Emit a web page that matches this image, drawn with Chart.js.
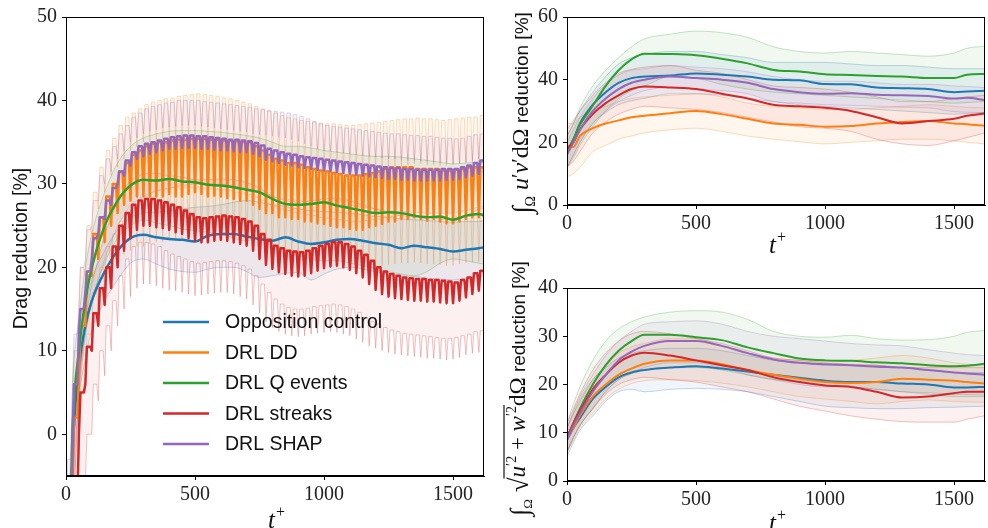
<!doctype html>
<html>
<head>
<meta charset="utf-8">
<title>Drag reduction and flow statistics</title>
<script src="https://cdn.jsdelivr.net/npm/chart.js@4.4.1/dist/chart.umd.min.js"></script>
<style>
html, body { margin: 0; padding: 0; background: #fff; }
#wrap { position: relative; width: 988px; height: 528px; overflow: hidden; }
canvas { position: absolute; }
#cDrag { left: 0; top: 0; }
#cUV { left: 490px; top: 0; }
#cUW { left: 490px; top: 255px; }
</style>
</head>
<body>
<div id="wrap">
  <canvas id="cDrag" width="500" height="528"></canvas>
  <canvas id="cUV" width="498" height="255"></canvas>
  <canvas id="cUW" width="498" height="273"></canvas>
</div>
<script>
const names = ['Opposition control', 'DRL DD', 'DRL Q events', 'DRL streaks', 'DRL SHAP'];
const colors = ['#1f77b4', '#ff7f0e', '#2ca02c', '#d62728', '#9467bd'];

// ---- left panel: drag reduction ----
// smooth series, t+ = 0,25,50,75,100,150,...,1600,1620
const tL = [0, 25, 50, 75, 100, 150, 200, 250, 300, 350, 400, 450, 500, 550, 600, 650, 700, 750,
  800, 850, 900, 950, 1000, 1050, 1100, 1150, 1200, 1250, 1300, 1350, 1400, 1450, 1500, 1550, 1600, 1620];
const ocMean = [-35, -3, 8, 13, 16, 19.5, 22, 23.5, 23.9, 23.6, 23.4, 23.3, 23.1, 23.8, 24, 24, 23.7, 23.4,
  23.2, 23.6, 23.1, 22.8, 23, 23.3, 23.4, 23.2, 22.9, 22.7, 22.3, 22.6, 22.4, 22.2, 21.9, 22.1, 22.3, 22.4];
const ocHi = [-30, 0, 10, 15, 18.5, 22, 24.5, 26, 26.5, 26.6, 26.8, 27, 27.2, 27.3, 27.5, 27.8, 28, 27.8,
  27.5, 27.3, 27, 26.8, 26.7, 26.6, 26.5, 26.3, 26.1, 26, 25.8, 25.7, 25.6, 25.5, 25.4, 25.5, 25.5, 25.6];
const ocLo = [-40, -8, 4, 9, 12.5, 16, 18.5, 20.5, 21, 20.4, 19.8, 19.5, 19.4, 19.8, 20, 20, 19.5, 18.8,
  19, 19.3, 19.4, 18.5, 19.2, 19.8, 20, 19.8, 19.5, 19.2, 19, 18.9, 18.7, 18.6, 18.5, 18.7, 18.9, 19];
const qeMean = [-32, 0, 10, 16, 20, 25, 28, 29.8, 30.5, 30.4, 30.6, 30.3, 30.2, 29.9, 29.8, 29.6, 29.3, 29,
  28.2, 27.6, 27.5, 27.6, 27.8, 27.4, 27.1, 26.8, 26.5, 26.6, 26.5, 26.2, 26, 26.1, 25.7, 26.2, 26.4, 26.2];
const qeHi = [-25, 5, 14, 20, 24, 29, 32.5, 34.5, 35.5, 36, 36.3, 36.4, 36.4, 36.3, 36.2, 36, 35.8, 35.5,
  35, 34.5, 34.5, 34.3, 34, 33.8, 33.6, 33.4, 33.3, 33.3, 33.2, 33, 32.8, 32.6, 32.4, 32.5, 32.6, 32.6];
const qeLo = [-38, -6, 6, 12, 16, 20.5, 23.5, 25, 25.7, 25.3, 25, 24.6, 24.4, 24.2, 24, 23.5, 23.2, 23.5,
  22.8, 22, 21.5, 21, 20.8, 20.8, 20.5, 20.2, 19.8, 19.5, 19.2, 19, 19.5, 20.5, 21, 20.8, 20.5, 20.4];
const stHi = [-40, -12, 6, 14, 18, 24, 28, 30.5, 31.2, 31.3, 31, 30.8, 30.5, 30.5, 30.6, 30.5, 30.2, 29.5,
  28.5, 28, 27.8, 28, 28.2, 28.3, 28, 27.5, 27, 26.5, 26.2, 26, 26, 25.8, 25.8, 26.2, 27, 27.2];
const shLo = [-35, -10, 5, 12, 16, 21, 25, 27.5, 28.5, 29.2, 29.5, 29.8, 30, 30, 30, 29.8, 29.5, 29,
  28.5, 28.2, 28, 27.8, 27.6, 27.5, 27.4, 27.2, 27, 26.8, 26.7, 26.6, 26.5, 26.5, 26.5, 26.8, 27.2, 27.4];

// oscillating series: per actuation period (25 t+) a dip value then the arch top value,
// one row per 100 t+
const ddMean = [
  -30, -18, -8, 2, 6, 13, 13, 19,
  19, 24, 21, 26, 23, 28.5, 25, 30,
  26.5, 31.5, 27.5, 32.5, 28, 33.5, 28.5, 34,
  28.5, 34.5, 28.5, 34.8, 28.5, 35, 28.5, 35,
  28.8, 35.2, 28.5, 35.3, 28.5, 35.3, 28.8, 35.4,
  29, 35.4, 28.8, 35.4, 28.5, 35.3, 28.6, 35.3,
  28.5, 35.2, 28.3, 35.2, 28.2, 35.1, 28, 35,
  28, 35, 27.5, 34.5, 27, 34, 26.5, 33.5,
  26.5, 33, 26, 32.8, 26, 32.5, 25.8, 32.5,
  25.8, 32.3, 25.5, 32, 25.5, 31.8, 25.3, 31.6,
  25.2, 31.5, 25, 31.3, 24.8, 31.2, 24.8, 31,
  24.6, 31, 24.5, 31, 24.5, 31.2, 24.8, 31.3,
  25, 31.5, 25.2, 31.8, 25.5, 32, 25.5, 32,
  25.8, 32, 25.8, 32, 26, 31.8, 25.8, 31.8,
  25.6, 31.8, 25.8, 31.8, 25.5, 31.6, 25.3, 31.6,
  25.3, 31.7, 25.5, 31.8, 25.8, 32, 26, 32,
  26, 32, 26.5];
const ddHi = [
  -20, -8, 2, 10, 14, 20, 19, 25,
  24, 29, 27, 32, 29, 34, 31, 35.5,
  32, 37, 33, 38, 34, 38.5, 34.5, 39,
  35, 39.5, 35, 39.8, 35.2, 40, 35.2, 40.2,
  35.3, 40.3, 35.5, 40.5, 35.5, 40.6, 35.6, 40.7,
  35.6, 40.8, 35.5, 40.7, 35.5, 40.6, 35.3, 40.5,
  35.2, 40.3, 35, 40.2, 34.8, 40, 34.6, 39.8,
  34.4, 39.6, 34, 39.3, 33.6, 39, 33.3, 38.7,
  33, 38.5, 32.8, 38.2, 32.6, 38, 32.4, 37.8,
  32.2, 37.6, 32, 37.5, 32, 37.4, 31.8, 37.3,
  31.8, 37.2, 31.7, 37.2, 31.6, 37.1, 31.5, 37,
  31.5, 37, 31.5, 37.1, 31.6, 37.2, 31.7, 37.3,
  31.8, 37.4, 32, 37.5, 32, 37.6, 32.2, 37.7,
  32.2, 37.8, 32.3, 37.8, 32.4, 37.9, 32.4, 37.8,
  32.3, 37.8, 32.3, 37.7, 32.2, 37.6, 32.2, 37.7,
  32.3, 37.8, 32.4, 37.9, 32.5, 38, 32.6, 38,
  32.6, 38.2, 33];
const ddLo = [
  -40, -28, -16, -6, -2, 5, 5, 12,
  12, 17, 15, 20, 17, 22.5, 19, 24,
  20.5, 25.5, 21.5, 26.5, 22, 27.5, 22.5, 28,
  22.5, 28.5, 22.8, 29, 23, 29.2, 23, 29.3,
  23.2, 29.5, 23.3, 29.5, 23.3, 29.6, 23.4, 29.6,
  23.4, 29.6, 23.3, 29.5, 23.3, 29.5, 23.2, 29.4,
  23.1, 29.3, 23, 29.2, 22.8, 29, 22.7, 28.9,
  22.5, 28.7, 22.2, 28.4, 22, 28, 21.7, 27.6,
  21.5, 27.3, 21.3, 27, 21.2, 26.8, 21, 26.6,
  20.8, 26.5, 20.6, 26.3, 20.5, 26.2, 20.4, 26,
  20.3, 25.9, 20.2, 25.8, 20, 25.7, 20, 25.6,
  19.8, 25.5, 19.8, 25.5, 19.8, 25.6, 19.9, 25.7,
  20, 25.8, 20.2, 26, 20.3, 26.1, 20.4, 26.2,
  20.5, 26.3, 20.5, 26.3, 20.6, 26.2, 20.5, 26.2,
  20.4, 26.1, 20.4, 26, 20.3, 26, 20.2, 25.9,
  20.2, 26, 20.4, 26.1, 20.5, 26.2, 20.6, 26.3,
  20.7, 26.4, 21];
const stMean = [
  -60, -40, -22, -8, 0, 5, 6, 10.5,
  10, 14.5, 13, 17.5, 15.5, 20, 17.5, 22.5,
  20, 25, 22, 26.5, 23.5, 27.5, 24.5, 28,
  25, 28.2, 25, 28.2, 24.8, 28, 24.7, 27.8,
  24.5, 27.5, 24.2, 27.2, 24, 26.8, 23.5, 26.4,
  23.2, 26, 23, 25.9, 23, 26, 23.2, 26.1,
  23.3, 26.2, 23.2, 26.1, 23, 26, 22.8, 25.8,
  22.6, 25.5, 22, 25, 21, 24, 20.3, 23.3,
  19.8, 22.6, 19.4, 22.3, 19.2, 22, 19, 21.9,
  18.9, 21.8, 19, 22, 19.3, 22.3, 19.6, 22.6,
  19.9, 22.8, 20.1, 23, 20.2, 23, 20, 22.8,
  19.7, 22.5, 19.3, 22, 18.8, 21.5, 18, 20.8,
  17.3, 20, 16.8, 19.5, 16.5, 19.2, 16.3, 19,
  16.2, 18.8, 16.1, 18.7, 16, 18.6, 16, 18.6,
  15.9, 18.5, 15.9, 18.5, 15.8, 18.4, 15.7, 18.3,
  15.7, 18.2, 16, 18.5, 16.4, 18.8, 16.8, 19.3,
  17.2, 19.6, 17.5];
const stLo = [
  -70, -55, -40, -28, -18, -10, -6, 0,
  0, 6, 4, 10, 7, 13, 10, 16,
  13, 19, 15, 21, 16.5, 22.5, 17.5, 23,
  18, 23, 18, 22.8, 17.8, 22.5, 17.5, 22,
  17.3, 21.6, 17.2, 21.3, 17, 21, 16.8, 20.7,
  16.6, 20.5, 16.7, 20.6, 16.8, 20.7, 16.9, 20.8,
  17, 20.8, 17, 20.7, 16.8, 20.5, 16.5, 20.2,
  16.2, 19.8, 15.5, 19, 14.5, 18, 13.5, 17,
  12.8, 16.2, 12.3, 15.6, 12, 15.2, 11.8, 15,
  11.7, 15, 11.8, 15.1, 12, 15.3, 12.1, 15.4,
  12.2, 15.5, 12.3, 15.6, 12.2, 15.5, 12, 15.3,
  11.8, 15, 11.4, 14.6, 11, 14, 10.6, 13.5,
  10.3, 13.2, 10, 12.8, 9.8, 12.5, 9.6, 12.3,
  9.5, 12.1, 9.4, 12, 9.3, 11.9, 9.2, 11.8,
  9.1, 11.7, 9.1, 11.6, 9, 11.5, 8.9, 11.5,
  9, 11.6, 9.2, 11.8, 9.5, 12, 9.7, 12.3,
  9.8, 12.4, 10];
const shMean = [
  -25, -12, -2, 6, 12, 15, 17, 19.5,
  21, 23.5, 24, 26, 25.8, 28, 27.5, 29.5,
  30, 31.5, 31, 32.8, 32.2, 33.8, 33, 34.5,
  33.3, 34.8, 33.6, 35, 33.8, 35.2, 34, 35.4,
  34.2, 35.6, 34.2, 35.7, 34.3, 35.8, 34.3, 35.8,
  34.3, 35.7, 34.2, 35.7, 34.2, 35.6, 34.1, 35.5,
  34, 35.4, 34, 35.3, 33.9, 35.3, 33.8, 35.2,
  33.8, 35.1, 33.6, 34.9, 33.3, 34.6, 32.9, 34.2,
  32.7, 34, 32.5, 33.8, 32.3, 33.6, 32.2, 33.5,
  32, 33.3, 31.9, 33.2, 31.8, 33.1, 31.7, 33,
  31.6, 32.9, 31.5, 32.8, 31.4, 32.7, 31.3, 32.6,
  31.2, 32.5, 31.1, 32.4, 31, 32.3, 30.9, 32.2,
  30.8, 32.1, 30.7, 32, 30.6, 31.9, 30.6, 31.9,
  30.5, 31.8, 30.5, 31.8, 30.4, 31.7, 30.4, 31.7,
  30.4, 31.7, 30.4, 31.7, 30.4, 31.8, 30.5, 31.8,
  30.5, 31.8, 30.6, 32, 30.8, 32.2, 31, 32.5,
  31.2, 32.8, 31.5];
const shHi = [
  -15, -3, 6, 12, 16, 20, 21, 24.5,
  25, 28, 28, 31, 30, 33, 31.5, 34.5,
  33, 36, 34, 37, 35, 38, 35.5, 38.5,
  36, 39, 36.3, 39.3, 36.5, 39.5, 36.7, 39.7,
  36.8, 39.8, 36.9, 40, 37, 40, 37, 40,
  37, 40, 36.9, 39.9, 36.8, 39.8, 36.7, 39.7,
  36.6, 39.6, 36.5, 39.5, 36.4, 39.4, 36.3, 39.3,
  36.2, 39.2, 36, 39, 35.9, 38.9, 35.8, 38.8,
  35.7, 38.7, 35.6, 38.6, 35.5, 38.5, 35.3, 38.3,
  35.1, 38.1, 34.8, 37.8, 34.5, 37.5, 34.2, 37.2,
  34, 37, 33.9, 36.9, 33.8, 36.8, 33.7, 36.7,
  33.6, 36.6, 33.5, 36.5, 33.4, 36.4, 33.3, 36.3,
  33.2, 36.2, 33.1, 36.1, 33, 36, 33, 36,
  32.9, 35.9, 32.8, 35.8, 32.8, 35.8, 32.7, 35.7,
  32.7, 35.7, 32.6, 35.6, 32.5, 35.5, 32.5, 35.5,
  32.4, 35.4, 32.5, 35.5, 32.6, 35.7, 32.8, 35.9,
  33, 36, 33.2];
const period = 25;

// ---- right panels, t+ grid ----
const tR = [0, 25, 50, 100, 150, 200, 250, 300, 400, 500, 600, 700, 800, 900, 1000, 1100, 1200, 1300, 1400, 1500, 1550, 1620];

// integral of u'v'
const uvOc = [17, 21, 26, 32, 36, 39, 40.5, 41, 41.3, 42, 41.6, 41, 40, 39.8, 38.6, 38.5, 37.5, 37.3, 37, 36, 36.2, 36.5];
const uvOcHi = [22, 26, 30, 36, 41, 45, 47, 48, 49, 49, 48, 47, 45.5, 45.5, 45.5, 45, 44.5, 44.5, 44, 43.5, 43.5, 43.5];
const uvOcLo = [12, 16, 20, 26, 29.5, 32, 33.3, 34, 35.5, 35.5, 35, 34, 33, 32, 31.5, 31, 30.5, 30, 29.5, 29, 29.2, 29.5];
const uvDd = [19, 18.5, 22, 24.5, 26, 27, 28, 28.5, 29.3, 30, 29, 27.5, 26, 25.6, 25, 25.2, 26, 26.5, 26.8, 26, 25.8, 25.3];
const uvDdHi = [26, 26, 28, 30, 31.5, 33, 34, 34.5, 35, 35.5, 34.5, 32.5, 31.5, 31, 30.5, 30.5, 31, 31.5, 32, 31.5, 31.2, 31];
const uvDdLo = [9, 10, 12, 17, 19, 21, 22, 23, 24, 24.5, 23.5, 22, 21, 20.2, 19.5, 20, 20.5, 21, 21, 20.5, 20, 19.5];
const uvQe = [17, 21, 25.5, 31.7, 38, 43, 46.5, 48.3, 48.2, 47.8, 46.7, 45.2, 43.1, 42.6, 41.7, 41.5, 41.2, 41, 40.5, 40.5, 41.6, 41.8];
const uvQeHi = [22, 26, 31, 38, 43, 47, 50.5, 53, 54.5, 55.5, 55, 53.5, 50.5, 49, 48.5, 49, 48.5, 48, 47.5, 48.5, 50, 50.7];
const uvQeLo = [12, 15, 19, 25, 30, 34, 36.5, 38, 41, 40.5, 38.5, 37, 36, 35.5, 35, 34.5, 34, 33.5, 33, 32.5, 32.7, 33];
const uvSt = [18, 20, 24, 29, 32.5, 35, 37, 37.8, 37.5, 37, 35.5, 34, 32, 31.5, 31, 30, 28, 26, 26.8, 27.5, 28.5, 29.2];
const uvStHi = [24, 27, 30, 35, 39, 42, 43.3, 44, 44.5, 43, 42, 40, 38, 37.5, 37, 36, 34.5, 33, 33, 34, 34.5, 35];
const uvStLo = [12, 14, 17, 23, 26.5, 29, 30.5, 31.5, 31, 30.5, 29.5, 28, 26.5, 25, 24.5, 23.5, 21, 19.5, 19, 20.5, 21.5, 23];
const uvSh = [16, 20, 24, 30, 34, 37, 39, 40, 41, 40.5, 40, 39, 37, 36, 35.5, 35.7, 35.2, 35, 34.8, 34, 34.2, 33.5];
const uvShHi = [20, 24, 28, 34, 38.5, 41.5, 43, 43.5, 44.5, 44, 43.5, 42.5, 41, 40, 39.5, 39.5, 39, 38.5, 38.5, 38, 37.8, 37.5];
const uvShLo = [12, 16, 20, 26, 30, 33, 35, 36.5, 37.5, 37, 36.5, 35.5, 33, 32.5, 32, 31.8, 31.5, 31.2, 31, 29.8, 29.6, 29.5];

// integral of sqrt(u'^2 + w'^2)
const uwOc = [8.5, 11, 13, 17, 19.5, 21.5, 22.5, 23, 23.5, 23.8, 23.3, 22.7, 22, 21.4, 20.8, 20.5, 20.5, 20.2, 20, 19.4, 19.4, 19.5];
const uwOcHi = [11, 14, 16.5, 21, 23.5, 25.5, 26.5, 27, 27.5, 27.5, 27, 26, 25, 24.5, 24, 24, 24, 23.5, 23, 22.5, 22.5, 22.5];
const uwOcLo = [5, 8, 10.5, 13.5, 16.5, 18.5, 19, 18.5, 19, 19.2, 19, 18.5, 17.5, 16.5, 15.5, 15.2, 15, 15, 15.2, 15.3, 15.4, 15.5];
const uwDd = [9, 11, 13.5, 17.5, 20, 22, 23.3, 24.3, 25, 25, 24.2, 23, 22, 21.2, 20.5, 20.3, 20.5, 21.2, 21, 20.8, 20.5, 20.2];
const uwDdHi = [11, 14, 17, 21, 24, 26.5, 27.8, 28.5, 29.5, 29.5, 28, 26.5, 25.5, 25, 24.8, 25, 25.5, 26, 25.5, 24.5, 24.2, 24];
const uwDdLo = [6, 8.5, 11, 14, 17, 19, 20.2, 20.8, 21, 20.8, 20.3, 19.5, 18.5, 17.5, 17, 16.5, 16, 16.5, 16.8, 16.5, 16.4, 16.3];
const uwQe = [9, 12, 15, 20, 24, 27, 29, 30.3, 30.3, 29.8, 29.2, 27.7, 26.5, 25.4, 25, 24.9, 24.6, 24.4, 24, 23.8, 23.9, 24.3];
const uwQeHi = [12, 16, 19.5, 25, 29, 31.5, 33, 34, 35, 35.3, 35, 33.5, 31, 30, 29.8, 30.2, 29.5, 29.2, 29.3, 30, 30.8, 31.2];
const uwQeLo = [6, 9, 11.5, 15, 18.5, 21, 22.2, 23, 23.5, 23.5, 23, 22, 21, 20.5, 19.8, 19.5, 19, 18.5, 18, 17.5, 17.5, 17.5];
const uwSt = [9, 12, 14.5, 19, 22, 24.5, 26, 26.6, 26, 25, 24, 23, 21.5, 20.5, 19.8, 19.5, 18.5, 17.3, 17.5, 18.2, 18.5, 18.5];
const uwStHi = [12, 15, 18, 23, 26.5, 29, 30.5, 31, 30.5, 29.5, 28.5, 27, 25.5, 25, 24.5, 24.2, 24, 23.5, 23.5, 23.5, 23.5, 23.5];
const uwStLo = [6, 9, 11.5, 15, 18, 20, 21, 21.5, 21, 20.5, 19.5, 18.5, 17, 15.5, 14.5, 13.5, 12.8, 12.3, 12.2, 12.2, 12.8, 13.5];
const uwSh = [8.5, 11.5, 14, 18.5, 22, 25, 26.8, 28, 29, 29, 28, 26.5, 25.2, 24.5, 24.2, 24, 23.7, 23.5, 23, 22.5, 22.3, 22];
const uwShHi = [11, 14.5, 17.5, 22, 26, 29, 31, 32.5, 33, 33.2, 32.5, 31, 30, 29.5, 29, 28.5, 28.2, 28, 27.2, 26.5, 26.2, 26];
const uwShLo = [6, 9, 11.5, 15, 18.5, 21, 22.5, 23.5, 24.5, 24.5, 23.5, 22, 21, 20, 19.5, 19.5, 19, 18.5, 18.3, 18, 17.9, 17.8];

const SERIF = '"Liberation Serif", "DejaVu Serif", serif';
const SANS = '"Liberation Sans", "DejaVu Sans", sans-serif';

function rgba(hex, a) {
  const n = parseInt(hex.slice(1), 16);
  return 'rgba(' + (n >> 16) + ',' + ((n >> 8) & 255) + ',' + (n & 255) + ',' + a + ')';
}
function pts(ts, vs) {
  return ts.map((t, i) => ({ x: t, y: vs[i] }));
}
// dip at the start of each period, arch top held over the rest of it
function oscPts(vs) {
  const out = [];
  for (let j = 0; 2 * j < vs.length; j++) {
    const t0 = j * period;
    out.push({ x: t0, y: vs[2 * j] });
    if (2 * j + 1 < vs.length) {
      out.push({ x: t0 + 6, y: vs[2 * j + 1] });
      out.push({ x: t0 + 19, y: vs[2 * j + 1] });
    }
  }
  return out;
}
function band(k, lo, hi, smooth) {
  const base = { borderColor: rgba(colors[k], 0.28), borderWidth: 1, pointRadius: 0,
    order: 20 - k, borderJoinStyle: 'round', cubicInterpolationMode: smooth ? 'monotone' : 'default' };
  return [
    Object.assign({ data: lo, fill: false }, base),
    Object.assign({ data: hi, fill: '-1', backgroundColor: rgba(colors[k], 0.07) }, base)
  ];
}
const drawOrder = [5, 4, 3, 2, 1];
function mean(k, data, w, smooth) {
  return { data: data, borderColor: colors[k], borderWidth: w, pointRadius: 0, fill: false,
    order: drawOrder[k], borderJoinStyle: 'round', borderCapStyle: 'round',
    cubicInterpolationMode: smooth ? 'monotone' : 'default' };
}

function scales(xH, yW, yMin, yMax, yTicks) {
  const tickFont = { family: SERIF, size: 20 };
  const grid = { drawOnChartArea: false, drawTicks: true, tickLength: 4, color: '#000' };
  return {
    x: {
      type: 'linear', min: 0, max: 1620,
      afterBuildTicks: s => { s.ticks = [0, 500, 1000, 1500].map(v => ({ value: v })); },
      afterFit: s => { s.height = xH; },
      ticks: { font: tickFont, color: '#222', padding: 3, maxRotation: 0, callback: v => String(v) },
      grid: grid, border: { display: true, color: '#000' }
    },
    y: {
      type: 'linear', min: yMin, max: yMax,
      afterBuildTicks: s => { s.ticks = yTicks.map(v => ({ value: v })); },
      afterFit: s => { s.width = yW; },
      ticks: { font: tickFont, color: '#222', padding: 5, callback: v => String(v) },
      grid: grid, border: { display: true, color: '#000' }
    }
  };
}

// rotated axis title made of several font runs
function drawParts(ctx, parts, bx, cy) {
  ctx.save();
  ctx.translate(bx, cy);
  ctx.rotate(-Math.PI / 2);
  ctx.textBaseline = 'alphabetic';
  ctx.textAlign = 'left';
  ctx.fillStyle = '#111';
  ctx.strokeStyle = '#111';
  let total = 0;
  for (const p of parts) { ctx.font = p.font; p.w = ctx.measureText(p.text).width; total += p.w; }
  let x = -total / 2, barX = 0;
  for (const p of parts) {
    ctx.font = p.font;
    ctx.fillText(p.text, x, p.dy || 0);
    if (p.barStart) barX = x - 1;
    if (p.barEnd) {
      ctx.lineWidth = 1.2;
      ctx.beginPath(); ctx.moveTo(barX, p.barY); ctx.lineTo(x + p.w + 1, p.barY); ctx.stroke();
    }
    x += p.w;
  }
  ctx.restore();
}
function drawTPlus(ctx, cx, by) {
  ctx.save();
  ctx.fillStyle = '#111';
  ctx.textBaseline = 'alphabetic';
  ctx.textAlign = 'left';
  ctx.font = 'italic 25px ' + SERIF;
  const w = ctx.measureText('t').width;
  ctx.fillText('t', cx - w, by);
  ctx.font = '16px ' + SERIF;
  ctx.fillText('+', cx + 1, by - 11);
  ctx.restore();
}
function frame(chart) {
  const ca = chart.chartArea, ctx = chart.ctx;
  ctx.save();
  ctx.strokeStyle = '#000';
  ctx.lineWidth = 1;
  ctx.strokeRect(Math.round(ca.left) + 0.5, Math.round(ca.top) + 0.5,
    Math.round(ca.right - ca.left) - 1, Math.round(ca.bottom - ca.top) - 1);
  ctx.restore();
}

const common = {
  responsive: false, animation: false, events: [],
  plugins: { legend: { display: false }, tooltip: { enabled: false } }
};

// ---- left chart ----
const dragSets = [
  mean(0, pts(tL, ocMean), 2.5, true), mean(1, oscPts(ddMean), 2.5, false), mean(2, pts(tL, qeMean), 2.5, true),
  mean(3, oscPts(stMean), 2.5, false), mean(4, oscPts(shMean), 2.5, false),
  ...band(0, pts(tL, ocLo), pts(tL, ocHi), true),
  ...band(1, oscPts(ddLo), oscPts(ddHi), false),
  ...band(2, pts(tL, qeLo), pts(tL, qeHi), true),
  ...band(3, oscPts(stLo), pts(tL, stHi), false),
  ...band(4, pts(tL, shLo), oscPts(shHi), false)
];
new Chart(document.getElementById('cDrag'), {
  type: 'line',
  data: { datasets: dragSets },
  options: Object.assign({}, common, {
    layout: { padding: { left: 0, right: 16, top: 13, bottom: 0 } },
    scales: scales(52, 66, -5, 50, [0, 10, 20, 30, 40, 50])
  }),
  plugins: [{
    id: 'dragDeco',
    afterDraw(chart) {
      const ctx = chart.ctx, ca = chart.chartArea;
      frame(chart);
      ctx.save();
      ctx.translate(22, (ca.top + ca.bottom) / 2 + 2);
      ctx.rotate(-Math.PI / 2);
      ctx.font = '19.5px ' + SANS;
      ctx.fillStyle = '#111';
      ctx.textAlign = 'center';
      ctx.textBaseline = 'middle';
      ctx.fillText('Drag reduction [%]', 0, 0);
      ctx.restore();
      drawTPlus(ctx, (ca.left + ca.right) / 2, 528);
      // legend
      ctx.save();
      ctx.font = '19.5px ' + SANS;
      ctx.textBaseline = 'middle';
      ctx.textAlign = 'left';
      names.forEach((n, i) => {
        const y = 322 + i * 30.5;
        ctx.strokeStyle = colors[i];
        ctx.lineWidth = 2.5;
        ctx.beginPath(); ctx.moveTo(163, y); ctx.lineTo(209, y); ctx.stroke();
        ctx.fillStyle = '#111';
        ctx.fillText(n, 225, y + 1);
      });
      ctx.restore();
    }
  }]
});

// ---- right charts ----
function rightSets(m, bands) {
  const out = [];
  m.forEach((v, k) => out.push(mean(k, pts(tR, v), 2, true)));
  bands.forEach((b, k) => out.push(...band(k, pts(tR, b[0]), pts(tR, b[1]), true)));
  return out;
}
new Chart(document.getElementById('cUV'), {
  type: 'line',
  data: { datasets: rightSets([uvOc, uvDd, uvQe, uvSt, uvSh],
    [[uvOcLo, uvOcHi], [uvDdLo, uvDdHi], [uvQeLo, uvQeHi], [uvStLo, uvStHi], [uvShLo, uvShHi]]) },
  options: Object.assign({}, common, {
    layout: { padding: { left: 0, right: 3, top: 12, bottom: 0 } },
    scales: scales(50, 77, 0, 60, [0, 20, 40, 60])
  }),
  plugins: [{
    id: 'uvDeco',
    afterDraw(chart) {
      const ctx = chart.ctx, ca = chart.chartArea;
      frame(chart);
      drawParts(ctx, [
        { text: '\u222B', font: '27px ' + SERIF, dy: 3 },
        { text: '\u03A9', font: '14px ' + SERIF, dy: 7 },
        { text: ' u', font: 'italic 24px ' + SERIF },
        { text: '\u2032', font: '21px ' + SERIF, dy: -2 },
        { text: 'v', font: 'italic 24px ' + SERIF },
        { text: '\u2032', font: '21px ' + SERIF, dy: -2 },
        { text: 'd\u03A9', font: '24px ' + SERIF },
        { text: ' reduction [%]', font: '19px ' + SANS }
      ], 38, (ca.top + ca.bottom) / 2 + 2);
      drawTPlus(ctx, (ca.left + ca.right) / 2, 253);
    }
  }]
});

new Chart(document.getElementById('cUW'), {
  type: 'line',
  data: { datasets: rightSets([uwOc, uwDd, uwQe, uwSt, uwSh],
    [[uwOcLo, uwOcHi], [uwDdLo, uwDdHi], [uwQeLo, uwQeHi], [uwStLo, uwStHi], [uwShLo, uwShHi]]) },
  options: Object.assign({}, common, {
    layout: { padding: { left: 0, right: 3, top: 33, bottom: 0 } },
    scales: scales(47, 77, 0, 40, [0, 10, 20, 30, 40])
  }),
  plugins: [{
    id: 'uwDeco',
    afterDraw(chart) {
      const ctx = chart.ctx, ca = chart.chartArea;
      frame(chart);
      drawParts(ctx, [
        { text: '\u222B', font: '26px ' + SERIF, dy: 3 },
        { text: '\u03A9', font: '13px ' + SERIF, dy: 7 },
        { text: ' \u221A', font: '27px ' + SERIF, dy: 3 },
        { text: 'u', font: 'italic 23px ' + SERIF, barStart: true },
        { text: '\u20322', font: '14px ' + SERIF, dy: -9 },
        { text: ' + ', font: '23px ' + SERIF },
        { text: 'w', font: 'italic 23px ' + SERIF },
        { text: '\u20322', font: '14px ' + SERIF, dy: -9, barEnd: true, barY: -21 },
        { text: 'd\u03A9', font: '23px ' + SERIF },
        { text: ' reduction [%]', font: '19px ' + SANS }
      ], 35, (ca.top + ca.bottom) / 2 + 4);
      drawTPlus(ctx, (ca.left + ca.right) / 2, 276);
    }
  }]
});
</script>
</body>
</html>
